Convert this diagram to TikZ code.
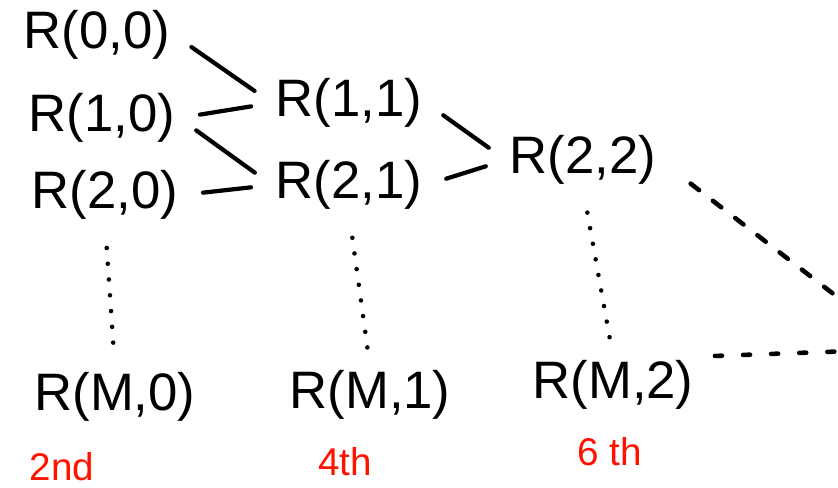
\documentclass[tikz,border=0pt]{standalone}
\usepackage{fontspec}
\setmainfont{Liberation Sans}
\usepackage{tikz}

\begin{document}
\begin{tikzpicture}[x=0.02cm,y=-0.02cm,
  entry/.style={inner sep=2pt,font=\fontsize{30}{36}\selectfont},
  order/.style={text=red!85!orange,font=\fontsize{22}{26}\selectfont},
  link/.style={line width=2.4pt,line cap=round,shorten <=12pt,shorten >=12pt},
  dots/.style={line width=2.6pt,line cap=round,dash pattern=on 0pt off 9pt}]
  \useasboundingbox (0,0) rectangle (838,487);
  % first column
  \node[entry] (r00) at (97,35) {R(0,0)};
  \node[entry] (r10) at (102,118) {R(1,0)};
  \node[entry] (r20) at (105,195) {R(2,0)};
  \node[entry] (rm0) at (115,397) {R(M,0)};
  % second column
  \node[entry] (r11) at (349,103) {R(1,1)};
  \node[entry] (r21) at (349,185) {R(2,1)};
  \node[entry] (rm1) at (370,395) {R(M,1)};
  % third column
  \node[entry] (r22) at (583,160) {R(2,2)};
  \node[entry] (rm2) at (613,385) {R(M,2)};
  % orders
  \node[order] (o2) at (62,467) {2nd};
  \node[order] (o4) at (345,462) {4th};
  \node[order] (o6) at (610,452) {6 th};
  \coordinate (far1) at (880,330);
  \coordinate (far2) at (880,350);
  \draw[link] (r00.east) -- (r11.west);
  \draw[link] (r10.east) -- (r11.west);
  \draw[link] (r10.east) -- (r21.west);
  \draw[link] (r20.east) -- (r21.west);
  \draw[link] (r11.east) -- (r22.west);
  \draw[link] (r21.east) -- (r22.west);
  \draw[dots,shorten <=14pt,shorten >=10pt] (r20.south) -- (rm0.north);
  \draw[dots,shorten <=14pt,shorten >=10pt] (r21.south) -- (rm1.north);
  \draw[dots,shorten <=14pt,shorten >=10pt] (r22.south) -- (rm2.north);
  \draw[line width=2.6pt,line cap=round,dash pattern=on 6pt off 10pt,shorten <=22pt] (r22.east) -- (far1);
  \draw[line width=2.6pt,line cap=round,dash pattern=on 4pt off 12pt,shorten <=10pt] (rm2.north east) -- (far2);
\end{tikzpicture}
\end{document}
